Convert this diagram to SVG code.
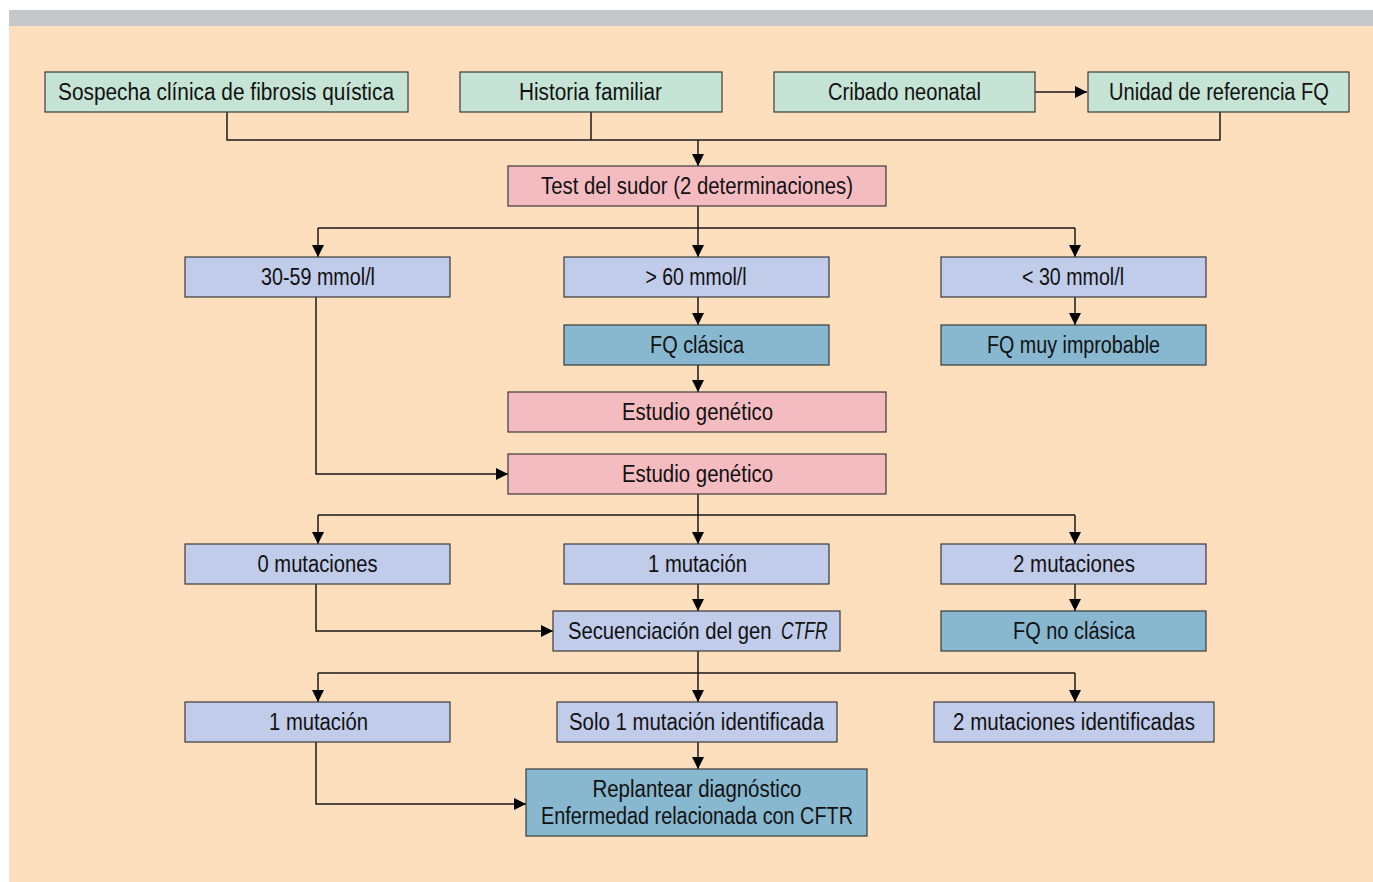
<svg xmlns="http://www.w3.org/2000/svg" width="1373" height="882" viewBox="0 0 1373 882">
<style>
.n rect{stroke:#3a3a3a;stroke-width:1.2}
.g{fill:#C6E4D5}.p{fill:#F4BCC1}.l{fill:#C1CBEA}.t{fill:#88B8D0}
text{font-family:"Liberation Sans",Arial,sans-serif;font-size:23px;fill:#111;text-anchor:middle}
text.s{text-anchor:start}
#connectors path{fill:none;stroke:#1a1a1a;stroke-width:1.5}
</style>
<defs>
<marker id="a" markerUnits="userSpaceOnUse" markerWidth="12" markerHeight="12" refX="12" refY="6" orient="auto" viewBox="0 0 12 12">
<path d="M0,0 L12,6 L0,12 z" fill="#000"/>
</marker>
</defs>
<rect x="0" y="0" width="1373" height="882" fill="#fff"/>
<rect x="9" y="10" width="1364" height="16" fill="#C6C7C9"/>
<rect x="9" y="26" width="1364" height="856" fill="#FDDFBE"/>
<g id="connectors">
<path d="M227,112V140H1220V112"/>
<path d="M591,112V140"/>
<path d="M1035,92H1087" marker-end="url(#a)"/>
<path d="M698,140V166" marker-end="url(#a)"/>
<path d="M698,206V257" marker-end="url(#a)"/>
<path d="M318,228H1075"/>
<path d="M318,228V257" marker-end="url(#a)"/>
<path d="M1075,228V257" marker-end="url(#a)"/>
<path d="M698,297V325" marker-end="url(#a)"/>
<path d="M1075,297V325" marker-end="url(#a)"/>
<path d="M698,365V392" marker-end="url(#a)"/>
<path d="M316,297V474H508" marker-end="url(#a)"/>
<path d="M698,494V544" marker-end="url(#a)"/>
<path d="M318,515H1075"/>
<path d="M318,515V544" marker-end="url(#a)"/>
<path d="M1075,515V544" marker-end="url(#a)"/>
<path d="M316,584V631H553" marker-end="url(#a)"/>
<path d="M698,584V611" marker-end="url(#a)"/>
<path d="M1075,584V611" marker-end="url(#a)"/>
<path d="M698,651V702" marker-end="url(#a)"/>
<path d="M318,673H1075"/>
<path d="M318,673V702" marker-end="url(#a)"/>
<path d="M1075,673V702" marker-end="url(#a)"/>
<path d="M698,742V769" marker-end="url(#a)"/>
<path d="M316,742V804H526" marker-end="url(#a)"/>
</g>
<g id="n1" class="n"><rect class="g" x="45" y="72" width="363" height="40"/><text x="226" y="100" textLength="336" lengthAdjust="spacingAndGlyphs">Sospecha clínica de fibrosis quística</text></g>
<g id="n2" class="n"><rect class="g" x="460" y="72" width="262" height="40"/><text x="590.5" y="100" textLength="143" lengthAdjust="spacingAndGlyphs">Historia familiar</text></g>
<g id="n3" class="n"><rect class="g" x="774" y="72" width="261" height="40"/><text x="904.5" y="100" textLength="153" lengthAdjust="spacingAndGlyphs">Cribado neonatal</text></g>
<g id="n4" class="n"><rect class="g" x="1088" y="72" width="261" height="40"/><text x="1219" y="100" textLength="220" lengthAdjust="spacingAndGlyphs">Unidad de referencia FQ</text></g>
<g id="n5" class="n"><rect class="p" x="508" y="166" width="378" height="40"/><text x="697" y="194" textLength="312" lengthAdjust="spacingAndGlyphs">Test del sudor (2 determinaciones)</text></g>
<g id="n6" class="n"><rect class="l" x="185" y="257" width="265" height="40"/><text x="318" y="285" textLength="114" lengthAdjust="spacingAndGlyphs">30-59 mmol/l</text></g>
<g id="n7" class="n"><rect class="l" x="564" y="257" width="265" height="40"/><text x="696" y="285" textLength="101" lengthAdjust="spacingAndGlyphs">&gt; 60 mmol/l</text></g>
<g id="n8" class="n"><rect class="l" x="941" y="257" width="265" height="40"/><text x="1073" y="285" textLength="102" lengthAdjust="spacingAndGlyphs">&lt; 30 mmol/l</text></g>
<g id="n9" class="n"><rect class="t" x="564" y="325" width="265" height="40"/><text x="697" y="353" textLength="94" lengthAdjust="spacingAndGlyphs">FQ clásica</text></g>
<g id="n10" class="n"><rect class="t" x="941" y="325" width="265" height="40"/><text x="1073.5" y="353" textLength="173" lengthAdjust="spacingAndGlyphs">FQ muy improbable</text></g>
<g id="n11" class="n"><rect class="p" x="508" y="392" width="378" height="40"/><text x="697.5" y="420" textLength="151" lengthAdjust="spacingAndGlyphs">Estudio genético</text></g>
<g id="n12" class="n"><rect class="p" x="508" y="454" width="378" height="40"/><text x="697.5" y="482" textLength="151" lengthAdjust="spacingAndGlyphs">Estudio genético</text></g>
<g id="n13" class="n"><rect class="l" x="185" y="544" width="265" height="40"/><text x="317.5" y="572" textLength="120" lengthAdjust="spacingAndGlyphs">0 mutaciones</text></g>
<g id="n14" class="n"><rect class="l" x="564" y="544" width="265" height="40"/><text x="697.5" y="572" textLength="99" lengthAdjust="spacingAndGlyphs">1 mutación</text></g>
<g id="n15" class="n"><rect class="l" x="941" y="544" width="265" height="40"/><text x="1074" y="572" textLength="122" lengthAdjust="spacingAndGlyphs">2 mutaciones</text></g>
<g id="n16" class="n"><rect class="l" x="553" y="611" width="287" height="40"/><text class="s" transform="translate(568 639) scale(0.88 1)" x="0" y="0">Secuenciación del gen</text><text class="s" transform="translate(781 639) scale(0.76 1)" x="0" y="0" font-style="italic">CTFR</text></g>
<g id="n17" class="n"><rect class="t" x="941" y="611" width="265" height="40"/><text x="1074" y="639" textLength="122" lengthAdjust="spacingAndGlyphs">FQ no clásica</text></g>
<g id="n18" class="n"><rect class="l" x="185" y="702" width="265" height="40"/><text x="318.5" y="730" textLength="99" lengthAdjust="spacingAndGlyphs">1 mutación</text></g>
<g id="n19" class="n"><rect class="l" x="557" y="702" width="280" height="40"/><text x="696.5" y="730" textLength="255" lengthAdjust="spacingAndGlyphs">Solo 1 mutación identificada</text></g>
<g id="n20" class="n"><rect class="l" x="934" y="702" width="280" height="40"/><text x="1074" y="730" textLength="242" lengthAdjust="spacingAndGlyphs">2 mutaciones identificadas</text></g>
<g id="n21" class="n"><rect class="t" x="526" y="769" width="341" height="67"/><text x="697" y="797" textLength="209" lengthAdjust="spacingAndGlyphs">Replantear diagnóstico</text><text x="697" y="824" textLength="312" lengthAdjust="spacingAndGlyphs">Enfermedad relacionada con CFTR</text></g>
</svg>
